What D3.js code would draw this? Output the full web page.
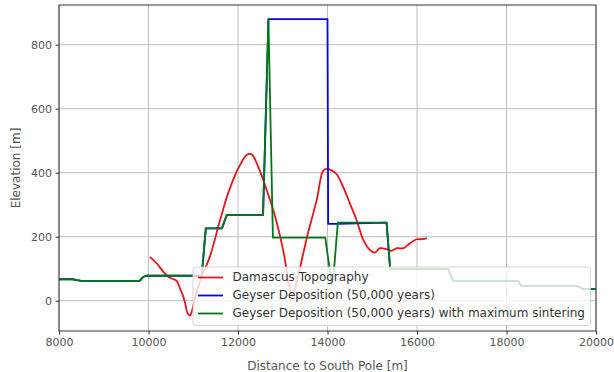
<!DOCTYPE html>
<html>
<head>
<meta charset="utf-8">
<script src="https://cdn.jsdelivr.net/npm/d3@7"></script>
<style>
  body { margin: 0; background: #fff; }
  svg { display: block; font-family: "DejaVu Sans", sans-serif; }
</style>
</head>
<body>
<svg width="614" height="372"></svg>
<script>
// Data, [distance m, elevation m]
var topography = [
  [10030,137],[10180,117],[10330,91],[10440,75],[10560,67],[10630,62],[10700,40],
  [10760,20],[10820,-8],[10870,-38],[10930,-46],[10990,-22],[11060,20],[11190,75],
  [11370,137],[11600,252],[11780,336],[11970,403],[12090,435],[12190,455],[12300,458],
  [12450,419],[12640,346],[12830,263],[13030,143],[13140,49],[13230,15],[13300,49],
  [13450,143],[13580,220],[13760,315],[13900,405],[13980,412],[14080,408],[14200,396],
  [14350,356],[14500,304],[14650,252],[14800,190],[14950,158],[15060,150],[15170,164],
  [15320,161],[15430,156],[15550,164],[15700,164],[15840,179],[15990,192],[16070,192],
  [16220,195]
];

var deposition = [
  [7800,67],[8300,67],[8400,64],[8500,62],[9800,62],[9880,74],[9950,78],[11190,78],
  [11280,226],[11640,226],[11750,268],[12560,268],[12680,880],[14000,880],[14015,240],
  [14230,240],[15320,244],[15400,99],[16700,99],[16800,62],[18250,62],[18340,46],
  [19570,46],[19720,36],[20300,36]
];

var sintering = [
  [7800,67],[8300,67],[8400,64],[8500,62],[9800,62],[9880,74],[9950,78],[11190,78],
  [11280,226],[11640,226],[11750,268],[12560,268],[12680,880],[12780,197],[13950,197],
  [14060,86],[14090,50],[14140,86],[14230,244],[15320,244],[15400,99],[16700,99],
  [16800,62],[18250,62],[18340,46],[19570,46],[19720,36],[20300,36]
];

var xTicks = [8000, 10000, 12000, 14000, 16000, 18000, 20000];
var yTicks = [0, 200, 400, 600, 800];
var seriesNames = ["Damascus Topography", "Geyser Deposition (50,000 years)",
                   "Geyser Deposition (50,000 years) with maximum sintering"];
var seriesColors = ["#e8141a", "#0000ff", "#007a10"];

var svg = d3.select("svg");
// plot box (avoid the name "top", it is window.top)
var pLeft = 59, pRight = 596, pTop = 5, pBottom = 331;

var x = d3.scaleLinear().domain([8000, 20000]).range([pLeft, pRight]);
var y = d3.scaleLinear().domain([-94.7, 924]).range([pBottom, pTop]);

// clip for lines
svg.append("defs").append("clipPath").attr("id", "plot")
  .append("rect").attr("x", pLeft).attr("y", pTop)
  .attr("width", pRight - pLeft).attr("height", pBottom - pTop);

// grid
var grid = svg.append("g").attr("stroke", "#b0b0b0").attr("stroke-width", 1).attr("opacity", 0.8);
grid.selectAll(".gx").data(xTicks).enter().append("line")
  .attr("x1", d => x(d)).attr("x2", d => x(d)).attr("y1", pTop).attr("y2", pBottom);
grid.selectAll(".gy").data(yTicks).enter().append("line")
  .attr("y1", d => y(d)).attr("y2", d => y(d)).attr("x1", pLeft).attr("x2", pRight);

// lines: topography is a measured profile so draw it smooth, deposition stays stepped
var smooth = d3.line().x(d => x(d[0])).y(d => y(d[1])).curve(d3.curveCatmullRom);
var straight = d3.line().x(d => x(d[0])).y(d => y(d[1]));
var lines = svg.append("g").attr("clip-path", "url(#plot)").attr("fill", "none")
  .attr("stroke-width", 1.8).attr("stroke-linejoin", "round");
lines.append("path").attr("d", smooth(topography)).attr("stroke", seriesColors[0]);
lines.append("path").attr("d", straight(deposition)).attr("stroke", seriesColors[1]);
lines.append("path").attr("d", straight(sintering)).attr("stroke", seriesColors[2]);

// axes
var xAxis = svg.append("g").attr("transform", "translate(0," + pBottom + ")")
  .call(d3.axisBottom(x).tickValues(xTicks).tickFormat(d3.format("d")).tickSize(3.5).tickPadding(3.5));
var yAxis = svg.append("g").attr("transform", "translate(" + pLeft + ",0)")
  .call(d3.axisLeft(y).tickValues(yTicks).tickSize(3.5).tickPadding(3.5));
[xAxis, yAxis].forEach(function(a) {
  a.select(".domain").remove();
  a.selectAll("line").attr("stroke", "#333");
  a.selectAll("text").attr("fill", "#555").style("font-size", "11px").style("font-family", "DejaVu Sans");
});

// spines
svg.append("rect").attr("x", pLeft).attr("y", pTop).attr("width", pRight - pLeft)
  .attr("height", pBottom - pTop).attr("fill", "none").attr("stroke", "#333").attr("stroke-width", 1);

// axis labels
svg.append("text").attr("x", (pLeft + pRight) / 2).attr("y", 366).attr("text-anchor", "middle")
  .attr("dominant-baseline", "middle").attr("fill", "#555").style("font-size", "12px")
  .text("Distance to South Pole [m]");
svg.append("text").attr("transform", "translate(16," + (pTop + pBottom) / 2 + ") rotate(-90)")
  .attr("text-anchor", "middle").attr("dominant-baseline", "middle").attr("fill", "#555")
  .style("font-size", "12px").text("Elevation [m]");

// legend
var lg = svg.append("g").attr("transform", "translate(193,267)");
lg.append("rect").attr("width", 397.5).attr("height", 58.5).attr("rx", 3)
  .attr("fill", "#fff").attr("fill-opacity", 0.8).attr("stroke", "#ccc").attr("stroke-opacity", 0.8);
seriesNames.forEach(function(name, i) {
  var ry = 10.5 + i * 18;
  lg.append("line").attr("x1", 5).attr("x2", 30).attr("y1", ry).attr("y2", ry)
    .attr("stroke", seriesColors[i]).attr("stroke-width", 1.8);
  lg.append("text").attr("x", 39.5).attr("y", ry).attr("dominant-baseline", "middle")
    .attr("fill", "#333").style("font-size", "12px").text(name);
});
</script>
</body>
</html>
